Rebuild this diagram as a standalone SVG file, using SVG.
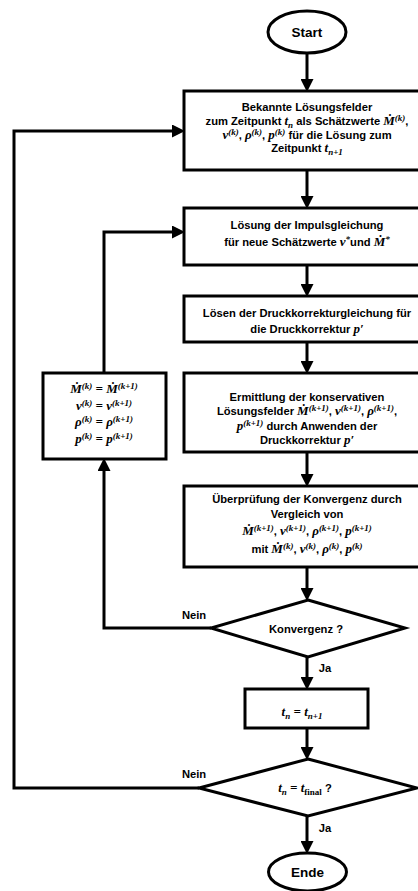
<svg xmlns="http://www.w3.org/2000/svg" width="418" height="891" viewBox="0 0 418 891">
<style>
.sh{fill:#fff;stroke:#000;stroke-width:3}
.c{fill:none;stroke:#000;stroke-width:3}
.t{font-family:"Liberation Sans",Arial,sans-serif;font-weight:bold;font-size:11.2px;fill:#000;text-anchor:middle}
.b{font-size:13.5px}
.m{font-family:"Liberation Serif","DejaVu Serif",serif;font-style:italic;font-weight:bold;font-size:13px}
.s{font-size:9px}
.u{font-style:normal}
</style>
<defs>
<marker id="ah" markerUnits="userSpaceOnUse" markerWidth="13" markerHeight="13" refX="6" refY="6.5" orient="auto" viewBox="0 0 13 13">
<path d="M0,0 L13,6.5 L0,13 z" fill="#000"/>
</marker>
</defs>
<g id="connectors">
<line class="c" x1="307" y1="53" x2="307" y2="85" marker-end="url(#ah)"/>
<line class="c" x1="307" y1="170" x2="307" y2="202" marker-end="url(#ah)"/>
<line class="c" x1="307" y1="265" x2="307" y2="290" marker-end="url(#ah)"/>
<line class="c" x1="307" y1="342" x2="307" y2="367" marker-end="url(#ah)"/>
<line class="c" x1="307" y1="452" x2="307" y2="480" marker-end="url(#ah)"/>
<line class="c" x1="307" y1="567" x2="307" y2="594" marker-end="url(#ah)"/>
<line class="c" x1="307" y1="657" x2="307" y2="683" marker-end="url(#ah)"/>
<line class="c" x1="307" y1="728" x2="307" y2="753" marker-end="url(#ah)"/>
<line class="c" x1="307" y1="816" x2="307" y2="847" marker-end="url(#ah)"/>
<polyline class="c" points="211,628 104,628 104,465" marker-end="url(#ah)"/>
<polyline class="c" points="104,373 104,232 178,232" marker-end="url(#ah)"/>
<polyline class="c" points="199,788 14,788 14,131 178,131" marker-end="url(#ah)"/>
<text class="t" x="194" y="619">Nein</text>
<text class="t" x="325" y="672">Ja</text>
<text class="t" x="194" y="778">Nein</text>
<text class="t" x="325" y="832">Ja</text>
</g>
<g id="start">
<ellipse class="sh" cx="307" cy="32" rx="39" ry="21"/>
<text class="t b" x="307" y="37">Start</text>
</g>
<g id="box1">
<rect class="sh" x="184" y="91" width="250" height="79"/>
<text class="t" x="307" y="111">Bekannte Lösungsfelder</text>
<text class="t" x="307" y="125">zum Zeitpunkt <tspan class="m">t</tspan><tspan class="m s" dy="3">n</tspan><tspan dy="-3"> als Schätzwerte </tspan><tspan class="m">Ṁ</tspan><tspan class="m s" dy="-4">(k)</tspan><tspan dy="4">,</tspan></text>
<text class="t" x="307" y="139"><tspan class="m">v</tspan><tspan class="m s" dy="-4">(k)</tspan><tspan dy="4">, </tspan><tspan class="m">ρ</tspan><tspan class="m s" dy="-4">(k)</tspan><tspan dy="4">, </tspan><tspan class="m">p</tspan><tspan class="m s" dy="-4">(k)</tspan><tspan dy="4"> für die Lösung zum</tspan></text>
<text class="t" x="307" y="152">Zeitpunkt <tspan class="m">t</tspan><tspan class="m s" dy="3">n+1</tspan></text>
</g>
<g id="box2">
<rect class="sh" x="184" y="208" width="250" height="57"/>
<text class="t" x="307" y="229">Lösung der Impulsgleichung</text>
<text class="t" x="307" y="246">für neue Schätzwerte <tspan class="m">v</tspan><tspan class="m s" dy="-4">*</tspan><tspan dy="4">und </tspan><tspan class="m">Ṁ</tspan><tspan class="m s" dy="-4">*</tspan></text>
</g>
<g id="box3">
<rect class="sh" x="184" y="296" width="250" height="46"/>
<text class="t" x="307" y="317">Lösen der Druckkorrekturgleichung für</text>
<text class="t" x="307" y="333">die Druckkorrektur <tspan class="m">p′</tspan></text>
</g>
<g id="box4">
<rect class="sh" x="184" y="373" width="250" height="79"/>
<text class="t" x="307" y="401">Ermittlung der konservativen</text>
<text class="t" x="307" y="415">Lösungsfelder <tspan class="m">Ṁ</tspan><tspan class="m s" dy="-4">(k+1)</tspan><tspan dy="4">, </tspan><tspan class="m">v</tspan><tspan class="m s" dy="-4">(k+1)</tspan><tspan dy="4">, </tspan><tspan class="m">ρ</tspan><tspan class="m s" dy="-4">(k+1)</tspan><tspan dy="4">,</tspan></text>
<text class="t" x="307" y="430"><tspan class="m">p</tspan><tspan class="m s" dy="-4">(k+1)</tspan><tspan dy="4"> durch Anwenden der</tspan></text>
<text class="t" x="307" y="444">Druckkorrektur <tspan class="m">p′</tspan></text>
</g>
<g id="leftbox">
<rect class="sh" x="43" y="373" width="123" height="86"/>
<text class="t" x="104" y="393"><tspan class="m">Ṁ</tspan><tspan class="m s" dy="-4">(k)</tspan><tspan class="m" dy="4"> = Ṁ</tspan><tspan class="m s" dy="-4">(k+1)</tspan></text>
<text class="t" x="104" y="410"><tspan class="m">v</tspan><tspan class="m s" dy="-4">(k)</tspan><tspan class="m" dy="4"> = v</tspan><tspan class="m s" dy="-4">(k+1)</tspan></text>
<text class="t" x="104" y="426"><tspan class="m">ρ</tspan><tspan class="m s" dy="-4">(k)</tspan><tspan class="m" dy="4"> = ρ</tspan><tspan class="m s" dy="-4">(k+1)</tspan></text>
<text class="t" x="104" y="443"><tspan class="m">p</tspan><tspan class="m s" dy="-4">(k)</tspan><tspan class="m" dy="4"> = p</tspan><tspan class="m s" dy="-4">(k+1)</tspan></text>
</g>
<g id="box5">
<rect class="sh" x="184" y="486" width="250" height="81"/>
<text class="t" x="307" y="503">Überprüfung der Konvergenz durch</text>
<text class="t" x="307" y="518">Vergleich von</text>
<text class="t" x="307" y="535"><tspan class="m">Ṁ</tspan><tspan class="m s" dy="-4">(k+1)</tspan><tspan dy="4">, </tspan><tspan class="m">v</tspan><tspan class="m s" dy="-4">(k+1)</tspan><tspan dy="4">, </tspan><tspan class="m">ρ</tspan><tspan class="m s" dy="-4">(k+1)</tspan><tspan dy="4">, </tspan><tspan class="m">p</tspan><tspan class="m s" dy="-4">(k+1)</tspan></text>
<text class="t" x="307" y="553">mit <tspan class="m">Ṁ</tspan><tspan class="m s" dy="-4">(k)</tspan><tspan dy="4">, </tspan><tspan class="m">v</tspan><tspan class="m s" dy="-4">(k)</tspan><tspan dy="4">, </tspan><tspan class="m">ρ</tspan><tspan class="m s" dy="-4">(k)</tspan><tspan dy="4">, </tspan><tspan class="m">p</tspan><tspan class="m s" dy="-4">(k)</tspan></text>
</g>
<g id="decision1">
<polygon class="sh" points="308,600 405,628 308,657 211,628"/>
<text class="t" x="306" y="633">Konvergenz ?</text>
</g>
<g id="box6">
<rect class="sh" x="245" y="689" width="123" height="39"/>
<text class="t" x="302" y="716"><tspan class="m">t</tspan><tspan class="m s" dy="3">n</tspan><tspan class="m" dy="-3"> = t</tspan><tspan class="m s" dy="3">n+1</tspan></text>
</g>
<g id="decision2">
<polygon class="sh" points="308,759 417,788 308,816 199,788"/>
<text class="t" x="305" y="792"><tspan class="m">t</tspan><tspan class="m s" dy="3">n</tspan><tspan class="m" dy="-3"> = t</tspan><tspan class="m s u" dy="3">final</tspan><tspan dy="-3"> ?</tspan></text>
</g>
<g id="end">
<ellipse class="sh" cx="307.5" cy="872" rx="39" ry="19"/>
<text class="t b" x="307.5" y="877">Ende</text>
</g>
</svg>
